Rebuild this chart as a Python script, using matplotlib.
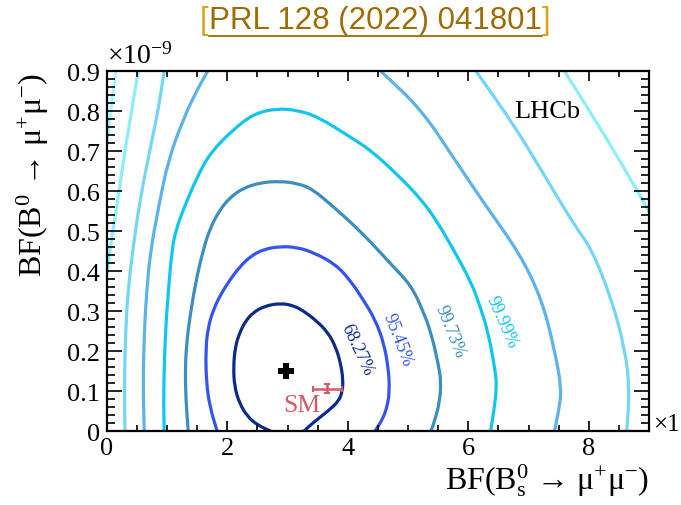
import matplotlib
matplotlib.use('Agg')
import matplotlib.pyplot as plt
from matplotlib.lines import Line2D
from matplotlib.path import Path
from matplotlib.patches import PathPatch
from matplotlib.ticker import MultipleLocator

plt.rcParams['font.family'] = ['Liberation Serif', 'DejaVu Serif']
plt.rcParams['mathtext.fontset'] = 'custom'
plt.rcParams['mathtext.rm'] = 'Liberation Serif'
plt.rcParams['mathtext.it'] = 'Liberation Serif:italic'
plt.rcParams['mathtext.bf'] = 'Liberation Serif:bold'

# contour lines, BF(Bs) in x, BF(B0) in y (units of 1e-9)
c6827_x = [2.72, 2.5, 2.33, 2.2, 2.12, 2.1, 2.13, 2.2, 2.3, 2.43, 2.62, 2.88, 3.1, 3.27, 3.47, 3.67, 3.8, 3.88, 3.92, 3.91, 3.85, 3.67, 3.43, 3.27]
c6827_y = [0.0, 0.015, 0.037, 0.07, 0.11, 0.16, 0.21, 0.245, 0.275, 0.297, 0.313, 0.32, 0.314, 0.3, 0.277, 0.247, 0.21, 0.17, 0.13, 0.1, 0.075, 0.05, 0.022, 0.0]

c9545_x = [1.83, 1.71, 1.65, 1.64, 1.68, 1.77, 1.9, 2.05, 2.2, 2.38, 2.6, 2.88, 3.15, 3.43, 3.8, 4.05, 4.25, 4.45, 4.6, 4.68, 4.69, 4.66, 4.58, 4.45]
c9545_y = [0.0, 0.06, 0.122, 0.205, 0.26, 0.305, 0.345, 0.38, 0.41, 0.437, 0.455, 0.462, 0.46, 0.447, 0.417, 0.375, 0.33, 0.28, 0.22, 0.15, 0.1, 0.065, 0.03, 0.0]

c9973_x = [1.35, 1.31, 1.3, 1.33, 1.38, 1.47, 1.6, 1.72, 1.88, 2.05, 2.25, 2.55, 2.88, 3.15, 3.4, 3.77, 4.1, 4.4, 4.7, 5.05, 5.25, 5.38, 5.5, 5.55, 5.52, 5.45, 5.38]
c9973_y = [0.0, 0.08, 0.162, 0.23, 0.287, 0.37, 0.455, 0.51, 0.555, 0.585, 0.607, 0.622, 0.625, 0.62, 0.607, 0.56, 0.515, 0.47, 0.42, 0.365, 0.3, 0.247, 0.17, 0.122, 0.07, 0.03, 0.0]

c9999_x = [0.95, 0.94, 0.97, 1.02, 1.08, 1.15, 1.27, 1.5, 1.72, 2.1, 2.45, 2.83, 3.15, 3.5, 4.1, 4.4, 4.8, 5.22, 5.5, 5.75, 6.05, 6.2, 6.33, 6.45, 6.47, 6.43, 6.37]
c9999_y = [0.0, 0.1, 0.247, 0.35, 0.455, 0.505, 0.555, 0.637, 0.697, 0.755, 0.795, 0.807, 0.803, 0.787, 0.73, 0.7, 0.645, 0.58, 0.52, 0.455, 0.372, 0.31, 0.247, 0.15, 0.11, 0.055, 0.0]

d_left_x = [0.62, 0.6, 0.62, 0.66, 0.72, 0.85, 1.02, 1.27, 1.45, 1.67]
d_left_y = [0.0, 0.12, 0.247, 0.35, 0.447, 0.555, 0.68, 0.78, 0.84, 0.9]
d_right_x = [4.55, 5.22, 5.77, 6.33, 6.85, 7.22, 7.43, 7.55, 7.5, 7.43]
d_right_y = [0.9, 0.805, 0.68, 0.555, 0.445, 0.33, 0.205, 0.105, 0.05, 0.0]

e_left_x = [0.3, 0.29, 0.31, 0.35, 0.43, 0.55, 0.75, 0.86, 0.95]
e_left_y = [0.0, 0.12, 0.25, 0.35, 0.455, 0.58, 0.73, 0.81, 0.9]
e_right_x = [6.13, 6.77, 7.27, 7.77, 8.05, 8.38, 8.6, 8.68, 8.63]
e_right_y = [0.9, 0.763, 0.638, 0.513, 0.455, 0.33, 0.205, 0.105, 0.0]

f_left_x = [0.52, 0.42, 0.33, 0.2, 0.1, 0.05, 0.0]
f_left_y = [0.9, 0.81, 0.73, 0.6, 0.5, 0.455, 0.39]
f_right_x = [7.6, 8.17, 8.6, 9.0]
f_right_y = [0.9, 0.763, 0.655, 0.55]

g_left_x = [0.15, 0.08, 0.0]
g_left_y = [0.9, 0.82, 0.72]

best_x, best_y = 2.97, 0.15
sm_x, sm_y = 3.66, 0.106
sm_xerr, sm_yerr = 0.24, 0.011

cl_labels = ['68.27%', '95.45%', '99.73%', '99.99%']
cl_label_x = [4.15, 4.82, 5.7, 6.55]
cl_label_y = [0.205, 0.23, 0.25, 0.275]

yticks = [0, 0.1, 0.2, 0.3, 0.4, 0.5, 0.6, 0.7, 0.8, 0.9]
ytick_labels = ['0', '0.1', '0.2', '0.3', '0.4', '0.5', '0.6', '0.7', '0.8', '0.9']
xticks = [0, 2, 4, 6, 8]
xtick_labels = ['0', '2', '4', '6', '8']

col_68 = '#0b2b8c'
col_95 = '#3355ee'
col_9973 = '#3a8ec0'
col_9999 = '#10c6f0'
col_d = '#5cb2ea'
col_e = '#74d6f6'
col_f = '#8ceefb'
col_g = '#a8f6ff'


def smooth_line(ax, xs, ys, color, lw=2.3):
    # quadratic curve through the midpoints, ends kept on the read points
    pts = list(zip(xs, ys))
    verts = [pts[0]]
    codes = [Path.MOVETO]
    if len(pts) > 2:
        m = ((pts[0][0] + pts[1][0]) / 2, (pts[0][1] + pts[1][1]) / 2)
        verts.append(m)
        codes.append(Path.LINETO)
        for i in range(1, len(pts) - 1):
            m = ((pts[i][0] + pts[i + 1][0]) / 2, (pts[i][1] + pts[i + 1][1]) / 2)
            verts += [pts[i], m]
            codes += [Path.CURVE3, Path.CURVE3]
    verts.append(pts[-1])
    codes.append(Path.LINETO)
    ax.add_patch(PathPatch(Path(verts, codes), fill=False, edgecolor=color, lw=lw,
                           capstyle='butt', joinstyle='round'))


fig = plt.figure(figsize=(6.81, 5.06), dpi=100)
ax = fig.add_axes([0.157, 0.146, 0.796, 0.711])

smooth_line(ax, g_left_x, g_left_y, col_g)
smooth_line(ax, f_left_x, f_left_y, col_f)
smooth_line(ax, f_right_x, f_right_y, col_f)
smooth_line(ax, e_left_x, e_left_y, col_e)
smooth_line(ax, e_right_x, e_right_y, col_e)
smooth_line(ax, d_left_x, d_left_y, col_d)
smooth_line(ax, d_right_x, d_right_y, col_d)
smooth_line(ax, c9999_x, c9999_y, col_9999)
smooth_line(ax, c9973_x, c9973_y, col_9973)
smooth_line(ax, c9545_x, c9545_y, col_95)
smooth_line(ax, c6827_x, c6827_y, col_68)

label_cols = [col_68, col_95, col_9973, col_9999]
label_rot = [-65, -69, -68, -66]
for t, x, y, c, r in zip(cl_labels, cl_label_x, cl_label_y, label_cols, label_rot):
    ax.text(x, y, t, color=c, fontsize=13, rotation=r, ha='center', va='center',
            rotation_mode='anchor')

# best fit and SM
ax.plot(best_x, best_y, marker='P', ms=12, color='black', mew=0)
ax.errorbar(sm_x, sm_y, xerr=sm_xerr, yerr=sm_yerr, color='#d65a66', elinewidth=1.8,
            capsize=2.5, capthick=1.5, fmt='none')
ax.text(3.23, 0.065, 'SM', color='#d65a66', fontsize=18.5, ha='center', va='center')

ax.text(6.77, 0.8, 'LHCb', fontsize=19, ha='left', va='center')

ax.set_xlim(0, 9)
ax.set_ylim(0, 0.9)
ax.set_xticks(xticks)
ax.set_xticklabels(xtick_labels)
ax.set_yticks(yticks)
ax.set_yticklabels(ytick_labels)
ax.xaxis.set_minor_locator(MultipleLocator(0.5))
ax.yaxis.set_minor_locator(MultipleLocator(0.02))
ax.tick_params(which='both', direction='in', top=True, right=True, width=1.2, labelsize=19)
ax.tick_params(axis='y', which='major', length=11, pad=5)
ax.tick_params(axis='y', which='minor', length=5.5)
ax.tick_params(axis='x', which='major', length=7.5, pad=4)
ax.tick_params(axis='x', which='minor', length=4.5)
for s in ax.spines.values():
    s.set_linewidth(1.6)

ax.set_xlabel(r'BF(B$^{0}_{\mathrm{s}}$ → μ$^{+}$μ$^{-}$)', fontsize=23, loc='right')
ax.xaxis.set_label_coords(1.0, -0.085)
ax.set_ylabel(r'BF(B$^{0}$ → μ$^{+}$μ$^{-}$)', fontsize=23, loc='top')
ax.yaxis.set_label_coords(-0.103, 1.0)

ax.text(0.0, 1.008, r'×10$^{-9}$', transform=ax.transAxes, fontsize=20, ha='left', va='bottom')
fig.text(0.959, 0.16, '×1', fontsize=18, ha='left', va='center')

# title with coloured brackets and underline
title = fig.text(0.551, 0.958, 'PRL 128 (2022) 041801', fontsize=22.5, color='#9e6c02',
                 family='Liberation Sans', ha='center', va='center')
fig.canvas.draw()
bb = title.get_window_extent().transformed(fig.transFigure.inverted())
fig.text(bb.x0, 0.958, '[', fontsize=22.5, color='#dba41c', family='Liberation Sans',
         ha='right', va='center')
fig.text(bb.x1, 0.958, ']', fontsize=22.5, color='#dba41c', family='Liberation Sans',
         ha='left', va='center')
fig.add_artist(Line2D([bb.x0, bb.x1], [0.926, 0.926], color='#9e6c02', lw=1.3,
                      transform=fig.transFigure))

fig.savefig('out.png', dpi=100)
